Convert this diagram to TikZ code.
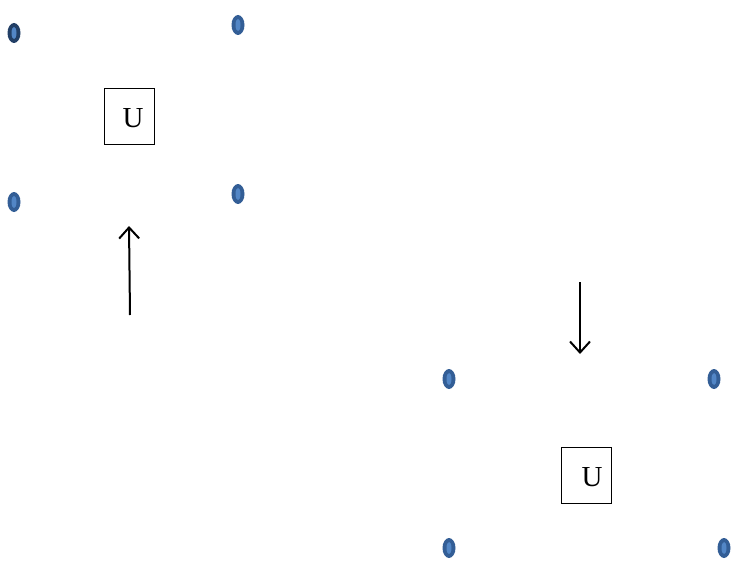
\documentclass[tikz,border=0pt]{standalone}
\usepackage{fontspec}
\setmainfont{Liberation Serif}
\usetikzlibrary{arrows.meta}
\definecolor{dotblue}{HTML}{335E96}
\definecolor{dotdark}{HTML}{223F66}
\definecolor{dotlight}{HTML}{5286C6}
\tikzset{
  ubox/.style={draw,line width=0.8pt,minimum width=50pt,minimum height=56pt,inner sep=0pt},
  utext/.style={inner sep=0pt,font=\fontsize{29}{32}\selectfont},
  arr/.style={line width=2pt,-{Straight Barb[length=11pt,width=20pt,line width=2pt]}}
}
\newcommand{\mydot}[3]{%
  \fill[#3] (#1,#2) ellipse [x radius=6.5pt, y radius=10pt];
  \fill[dotlight] (#1,#2) ellipse [x radius=2.5pt, y radius=6pt];
}
\begin{document}
\begin{tikzpicture}[x=1pt,y=-1pt]
\useasboundingbox (0,0) rectangle (739,575);
\mydot{14}{33}{dotdark}
\mydot{238}{25}{dotblue}
\mydot{14}{202}{dotblue}
\mydot{238}{194}{dotblue}
\mydot{449}{379}{dotblue}
\mydot{714}{379}{dotblue}
\mydot{449}{548}{dotblue}
\mydot{724}{548}{dotblue}
\node[ubox] (b1) at (129,116) {};
\node[utext] (u1) at (133,118) {U};
\node[ubox] (b2) at (586,475.5) {};
\node[utext] (u2) at (592,477) {U};
\coordinate (a1s) at (130,315);
\coordinate (a1e) at (129,226);
\coordinate (a2s) at (580,282);
\coordinate (a2e) at (580,354);
\draw[arr] (a1s) -- (a1e);
\draw[arr] (a2s) -- (a2e);
\end{tikzpicture}
\end{document}
